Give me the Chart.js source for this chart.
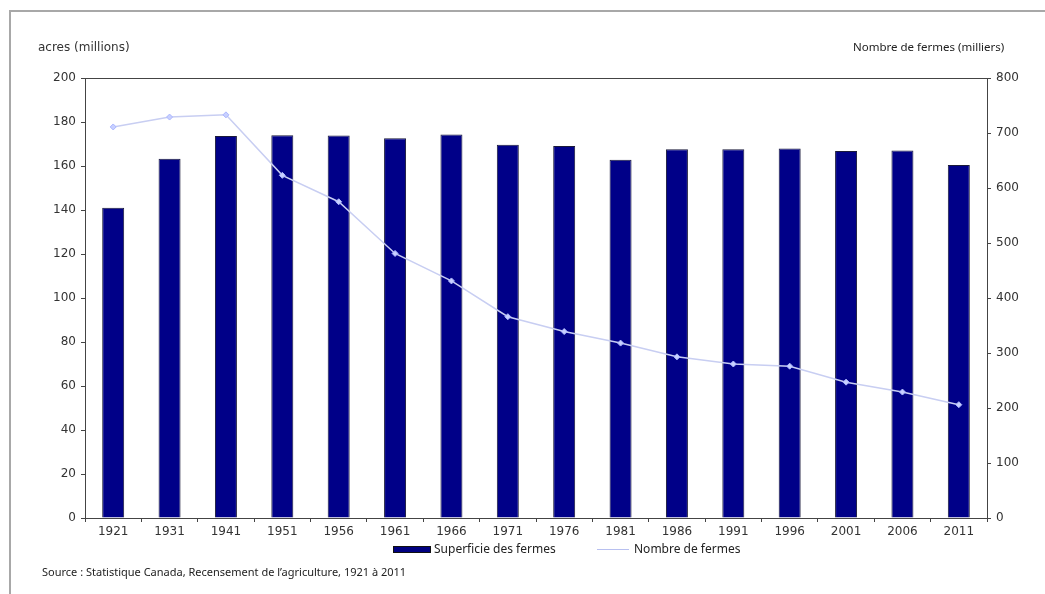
<!DOCTYPE html>
<html>
<head>
<meta charset="utf-8">
<script src="https://cdn.jsdelivr.net/npm/chart.js@4/dist/chart.umd.min.js"></script>
<style>
  body { margin: 0; background: #fff; width: 1045px; height: 594px; overflow: hidden; position: relative; }
  #frame { position: absolute; left: 9px; top: 10px; width: 1040px; height: 600px; border: 2px solid #a8a8a8; box-sizing: border-box; }
  #chart { position: absolute; left: 0; top: 0; }
  .lbl { position: absolute; color: #333; white-space: nowrap; }
  #ytitle { left: 38px; top: 40px; font: 12px "DejaVu Sans", Verdana, sans-serif; }
  #y2title { left: 853px; top: 39px; font: 11.5px "Noto Sans", sans-serif; color: #222; }
  #source { left: 42px; top: 564px; font: 11px "Noto Sans", sans-serif; color: #222; }
  .leg { position: absolute; top: 540px; font: 12px "Noto Sans", sans-serif; color: #222; }
  .sw-bar { position: absolute; left: 393px; top: 546px; width: 38px; height: 7px; background: #000080; border: 1px solid #111; box-sizing: border-box; }
  .sw-line { position: absolute; left: 597px; top: 549px; width: 32px; height: 1px; background: #b8c0f0; }
</style>
</head>
<body>
<div id="frame"></div>
<canvas id="chart" width="1045" height="594"></canvas>
<div class="lbl" id="ytitle">acres (millions)</div>
<div class="lbl" id="y2title">Nombre de fermes (milliers)</div>
<div class="sw-bar"></div>
<div class="leg" style="left:434px">Superficie des fermes</div>
<div class="sw-line"></div>
<div class="leg" style="left:634px">Nombre de fermes</div>
<div class="lbl" id="source">Source : Statistique Canada, Recensement de l’agriculture, 1921 à 2011</div>
<script>
// census years
var years = ['1921', '1931', '1941', '1951', '1956', '1961', '1966', '1971', '1976', '1981', '1986', '1991', '1996', '2001', '2006', '2011'];
// farm area, millions of acres
var farmArea = [141.0, 163.3, 173.6, 174.0, 173.9, 172.6, 174.3, 169.7, 169.1, 162.8, 167.6, 167.6, 168.0, 166.8, 167.1, 160.5];
// number of farms, thousands
var farmCount = [711, 729, 733, 623, 575, 481, 431, 366, 339, 318, 293, 280, 276, 247, 229, 206];

var tickFont = { family: "'DejaVu Sans', Verdana, sans-serif", size: 12 };

var boxBorder = {
    id: 'boxBorder',
    afterDatasetsDraw: function(chart) {
        var a = chart.chartArea, c = chart.ctx;
        c.save();
        c.strokeStyle = '#444';
        c.lineWidth = 1;
        c.strokeRect(a.left + 0.5, a.top + 0.5, a.right - a.left, a.bottom - a.top);
        c.restore();
    }
};

var ctx = document.getElementById('chart');
new Chart(ctx, {
    data: {
        labels: years,
        datasets: [{
            type: 'line',
            label: 'Nombre de fermes',
            data: farmCount,
            yAxisID: 'y2',
            borderColor: '#c8cef2',
            borderWidth: 1.5,
            pointStyle: 'rectRot',
            pointRadius: 3,
            pointBackgroundColor: '#c8d0ff',
            pointBorderColor: '#aab6ff',
            pointBorderWidth: 1,
            tension: 0,
            order: 0
        }, {
            type: 'bar',
            label: 'Superficie des fermes',
            data: farmArea,
            yAxisID: 'y',
            backgroundColor: '#000088',
            borderColor: '#1a1a3a',
            borderWidth: 1,
            barPercentage: 0.39,
            categoryPercentage: 1,
            order: 1
        }]
    },
    options: {
        responsive: false,
        animation: false,
        layout: { padding: { top: 78, left: 0, right: 0, bottom: 0 } },
        plugins: { legend: { display: false }, tooltip: { enabled: false } },
        scales: {
            x: {
                offset: true,
                grid: { display: true, drawOnChartArea: false, offset: true, tickLength: 4, color: '#444' },
                border: { display: true, color: '#444' },
                ticks: { color: '#333', font: tickFont, padding: 3, maxRotation: 0 },
                afterFit: function(s) { s.height = 76; }
            },
            y: {
                position: 'left',
                min: 0, max: 200,
                grid: { drawOnChartArea: false, tickLength: 4, color: '#444' },
                border: { display: true, color: '#444' },
                ticks: { stepSize: 20, color: '#333', font: tickFont, padding: 5 },
                afterFit: function(s) { s.width = 85; }
            },
            y2: {
                position: 'right',
                min: 0, max: 800,
                grid: { drawOnChartArea: false, tickLength: 4, color: '#444' },
                border: { display: true, color: '#444' },
                ticks: { stepSize: 100, color: '#333', font: tickFont, padding: 5 },
                afterFit: function(s) { s.width = 58; }
            }
        }
    },
    plugins: [boxBorder]
});
</script>
</body>
</html>
